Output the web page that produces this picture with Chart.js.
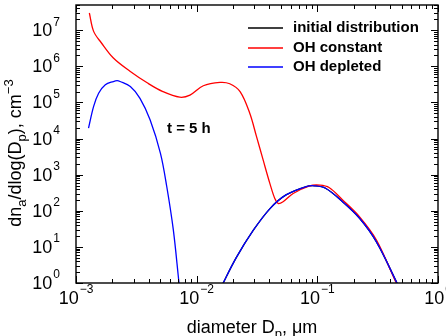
<!DOCTYPE html>
<html lang="en">
<head>
<meta charset="UTF-8">
<title>Size distribution</title>
<script src="https://cdn.jsdelivr.net/npm/chart.js"></script>
<style>
  body { margin: 0; background: #fff; }
  #wrap { width: 446px; height: 336px; position: relative; }
</style>
</head>
<body>
<div id="wrap"><canvas id="grafica"></canvas></div>
<script>
  // diameter (um) and dn/dlogDp (cm^-3)
  const initD = [0.0162, 0.0166, 0.0214, 0.0295, 0.0407, 0.055, 0.081, 0.0955, 0.117, 0.162, 0.224, 0.309, 0.457, 0.48];
  const initN = [0.8, 1.0, 5.2, 29, 117, 275, 470, 490, 420, 178, 62, 13.8, 1.0, 0.7];

  const constD = [0.00129, 0.0014, 0.00162, 0.00204, 0.00282, 0.00389, 0.00525, 0.00724, 0.0088, 0.01135, 0.0156, 0.0188, 0.0229, 0.0275, 0.0313, 0.0355, 0.0404, 0.0444, 0.0473, 0.052, 0.063, 0.0863, 0.105, 0.125, 0.162, 0.224, 0.309, 0.447, 0.47];
  const constN = [3.0e7, 9.3e6, 4.5e6, 1.7e6, 7.2e5, 3.5e5, 2.0e5, 1.4e5, 1.6e5, 2.9e5, 3.6e5, 3.3e5, 2.0e5, 5.1e4, 1.15e4, 2.6e3, 575, 220, 160, 178, 300, 490, 513, 440, 200, 68, 15.5, 1.07, 0.8];

  // OH depleted: nucleation branch, gap, then accumulation mode
  const deplD = [0.00127, 0.0014, 0.00154, 0.00175, 0.00204, 0.00219, 0.00232, 0.00282, 0.00339, 0.00411, 0.00501, 0.00565, 0.00641, 0.00714, 0.00724, 0.01,
                 0.0162, 0.0166, 0.0214, 0.0295, 0.0407, 0.055, 0.081, 0.0955, 0.117, 0.162, 0.224, 0.309, 0.457, 0.48];
  const deplN = [1.95e4, 7.8e4, 1.8e5, 3.1e5, 3.8e5, 4.0e5, 3.8e5, 2.75e5, 1.3e5, 3.3e4, 3.9e3, 470, 29, 1.0, 0.7, null,
                 0.8, 1.0, 5.2, 29, 117, 275, 470, 490, 420, 178, 62, 13.8, 1.0, 0.7];

  const etiquetas = ['initial distribution', 'OH constant', 'OH depleted'];
  const colores = ['#000000', '#ff0000', '#0000ff'];
  const xDecadas = [-3, -2, -1, 0];
  const yDecadas = [0, 1, 2, 3, 4, 5, 6, 7];
  const nota = 't = 5 h';

  const puntos = (d, n) => d.map((v, i) => ({ x: v, y: n[i] }));

  const FUENTE = '"Liberation Sans", Arial, sans-serif';

  function potencia(ctx, x, y, e, alinear) {
    const base = '10';
    const exp = e < 0 ? '\u2212' + Math.abs(e) : String(e);
    ctx.font = '18px ' + FUENTE;
    const wb = ctx.measureText(base).width;
    ctx.font = '12px ' + FUENTE;
    const we = ctx.measureText(exp).width;
    let x0 = alinear === 'right' ? x - wb - we - 1 : x - (wb + we + 1) / 2;
    ctx.textAlign = 'left';
    ctx.textBaseline = 'middle';
    ctx.font = '18px ' + FUENTE;
    ctx.fillText(base, x0, y);
    ctx.font = '12px ' + FUENTE;
    ctx.fillText(exp, x0 + wb + 1, y - 9);
  }

  // draws a list of [text, size, dy] pieces in a row
  function trozos(ctx, partes, x, y) {
    let ancho = 0;
    partes.forEach(p => { ctx.font = p[1] + 'px ' + FUENTE; ancho += ctx.measureText(p[0]).width; });
    let cx = x - ancho / 2;
    ctx.textAlign = 'left';
    ctx.textBaseline = 'alphabetic';
    partes.forEach(p => {
      ctx.font = p[1] + 'px ' + FUENTE;
      ctx.fillText(p[0], cx, y + p[2]);
      cx += ctx.measureText(p[0]).width;
    });
  }

  const marco = {
    id: 'marco',
    afterDraw(chart) {
      const ctx = chart.ctx;
      const a = chart.chartArea;
      const sx = chart.scales.x, sy = chart.scales.y;
      ctx.save();
      ctx.strokeStyle = '#000';
      ctx.fillStyle = '#000';

      // ticks pointing inward on all four sides
      ctx.lineWidth = 1;
      ctx.beginPath();
      xDecadas.forEach(e => {
        for (let k = 1; k <= 9; k++) {
          const v = k * Math.pow(10, e);
          if (v > sx.max * 1.0001) break;
          const px = Math.round(sx.getPixelForValue(v)) + 0.5;
          const len = k === 1 ? 7 : 4;
          ctx.moveTo(px, a.bottom); ctx.lineTo(px, a.bottom - len);
          ctx.moveTo(px, a.top); ctx.lineTo(px, a.top + len);
        }
      });
      yDecadas.forEach(e => {
        for (let k = 1; k <= 9; k++) {
          const v = k * Math.pow(10, e);
          if (v > sy.max * 1.0001) break;
          const py = Math.round(sy.getPixelForValue(v)) + 0.5;
          const len = k === 1 ? 7 : 4;
          ctx.moveTo(a.left, py); ctx.lineTo(a.left + len, py);
          ctx.moveTo(a.right, py); ctx.lineTo(a.right - len, py);
        }
      });
      ctx.stroke();

      ctx.lineWidth = 1.4;
      ctx.strokeRect(a.left, a.top, a.right - a.left, a.bottom - a.top);

      // tick labels
      xDecadas.forEach(e => potencia(ctx, sx.getPixelForValue(Math.pow(10, e)), a.bottom + 16, e, 'center'));
      yDecadas.forEach(e => potencia(ctx, a.left - 16, sy.getPixelForValue(Math.pow(10, e)) + 1, e, 'right'));

      // axis titles
      trozos(ctx, [['diameter D', 18, 0], ['p', 13, 5], [', \u03bcm', 18, 0]], 252, 333);
      ctx.save();
      ctx.translate(21, 153);
      ctx.rotate(-Math.PI / 2);
      trozos(ctx, [['dn', 18, 0], ['a', 13, 5], ['/dlog(D', 18, 0], ['p', 13, 5], ['), cm', 18, 0], ['\u22123', 13, -8]], 0, 0);
      ctx.restore();

      // legend
      ctx.font = 'bold 15px ' + FUENTE;
      ctx.textBaseline = 'middle';
      ctx.textAlign = 'left';
      chart.data.datasets.forEach((ds, i) => {
        const y = [28, 48, 67][i];
        ctx.strokeStyle = ds.borderColor;
        ctx.lineWidth = 1.3;
        ctx.beginPath();
        ctx.moveTo(248, y); ctx.lineTo(283, y);
        ctx.stroke();
        ctx.fillText(ds.label, 293, y);
      });

      ctx.font = 'bold 15px ' + FUENTE;
      ctx.fillText(nota, 167, 129);
      ctx.restore();
    }
  };

  new Chart(document.getElementById('grafica'), {
    type: 'line',
    data: {
      datasets: [
        { label: etiquetas[0], data: puntos(initD, initN), borderColor: colores[0], order: 3 },
        { label: etiquetas[1], data: puntos(constD, constN), borderColor: colores[1], order: 2 },
        { label: etiquetas[2], data: puntos(deplD, deplN), borderColor: colores[2], order: 1 }
      ]
    },
    options: {
      responsive: true,
      maintainAspectRatio: false,
      animation: false,
      layout: { padding: { left: 76, right: 8, top: 5, bottom: 53 } },
      elements: {
        line: { borderWidth: 1.3, tension: 0.35, fill: false },
        point: { radius: 0 }
      },
      spanGaps: false,
      plugins: { legend: { display: false }, tooltip: { enabled: false } },
      scales: {
        x: { type: 'logarithmic', min: 0.001, max: 1, display: false },
        y: { type: 'logarithmic', min: 1, max: 5e7, display: false }
      }
    },
    plugins: [marco]
  });
</script>
</body>
</html>
